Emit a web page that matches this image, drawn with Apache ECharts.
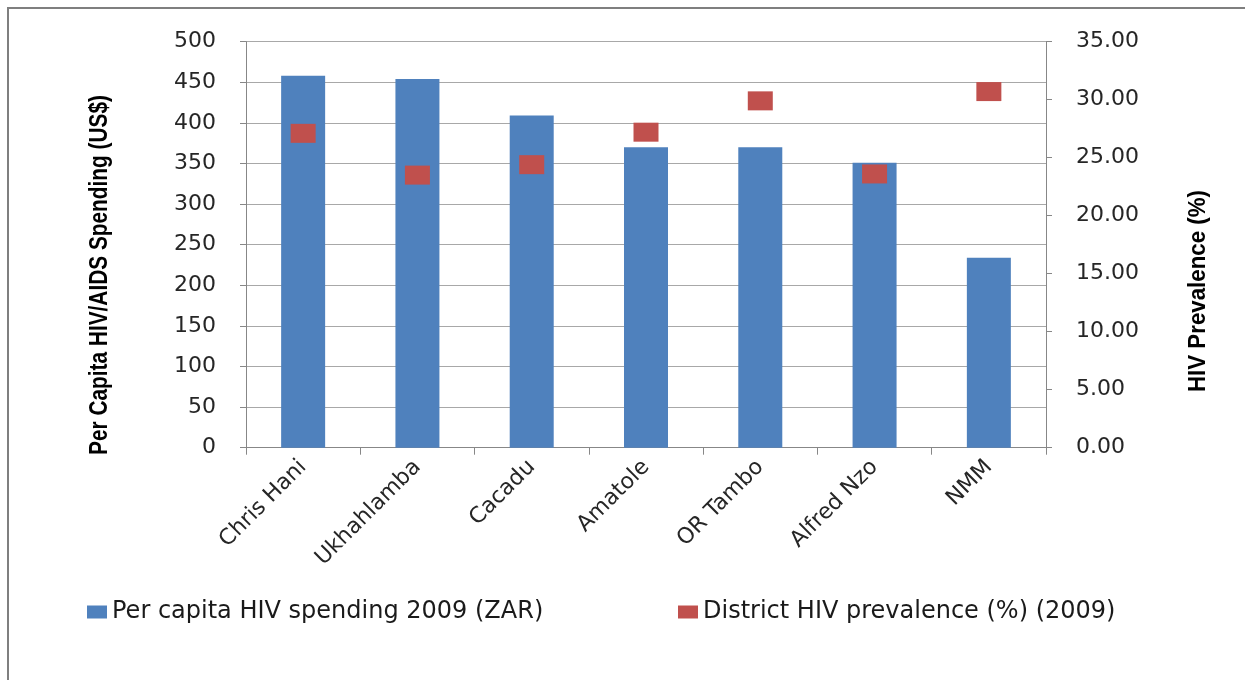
<!DOCTYPE html>
<html>
<head>
<meta charset="utf-8">
<script src="https://cdn.jsdelivr.net/npm/echarts@6/dist/echarts.min.js"></script>
<style>
html,body{margin:0;padding:0;background:#fff;}
#chart{width:1245px;height:680px;}
</style>
</head>
<body>
<div id="chart"></div>
<script>
const categories = ['Chris Hani', 'Ukhahlamba', 'Cacadu', 'Amatole', 'OR Tambo', 'Alfred Nzo', 'NMM'];
const spending = [458, 454, 409, 370, 370, 351, 234];
const prevalence = [27.1, 23.5, 24.4, 27.2, 29.9, 23.6, 30.7];
const seriesNames = ['Per capita HIV spending 2009 (ZAR)', 'District HIV prevalence (%) (2009)'];
const leftTitle = 'Per Capita HIV/AIDS Spending (US$)';
const rightTitle = 'HIV Prevalence (%)';

function fitScale(text, font, target) {
  const ctx = document.createElement('canvas').getContext('2d');
  ctx.font = font;
  return target / ctx.measureText(text).width;
}
const titleFontL = 'bold 25px "Liberation Sans", Arial, sans-serif';
const titleFontR = 'bold 24px "Liberation Sans", Arial, sans-serif';

const chart = echarts.init(document.getElementById('chart'), null, {renderer: 'canvas'});
const labelFont = {fontFamily: 'DejaVu Sans', fontSize: 22, color: '#262626'};
const legendText = {fontFamily: 'DejaVu Sans', fontSize: 24, color: '#1a1a1a'};
chart.setOption({
  animation: false,
  backgroundColor: '#ffffff',
  grid: {left: 246, right: 199, top: 41.7, bottom: 232.3, containLabel: false},
  legend: [{
    left: 82, top: 595, itemWidth: 20, itemHeight: 13, itemGap: 0, icon: 'rect',
    textStyle: legendText, data: [seriesNames[0]]
  }, {
    left: 673, top: 595, itemWidth: 20, itemHeight: 13, itemGap: 0, icon: 'rect',
    textStyle: legendText, data: [seriesNames[1]]
  }],
  xAxis: {
    type: 'category',
    data: categories,
    axisLine: {lineStyle: {color: '#878787', width: 1}},
    axisTick: {show: true, length: 7, lineStyle: {color: '#878787'}},
    axisLabel: Object.assign({rotate: 45, margin: 16, interval: 0}, labelFont)
  },
  yAxis: [{
    type: 'value', min: 0, max: 500, interval: 50,
    axisLine: {show: true, lineStyle: {color: '#878787'}},
    axisTick: {show: true, length: 6, lineStyle: {color: '#878787'}},
    splitLine: {show: true, lineStyle: {color: '#a8a8a8', width: 1}},
    axisLabel: Object.assign({margin: 30}, labelFont)
  }, {
    type: 'value', min: 0, max: 35, interval: 5, position: 'right',
    axisLine: {show: true, lineStyle: {color: '#878787'}},
    axisTick: {show: true, length: 6, lineStyle: {color: '#878787'}},
    splitLine: {show: false},
    axisLabel: Object.assign({margin: 30, formatter: v => v.toFixed(2)}, labelFont)
  }],
  series: [{
    name: seriesNames[0], type: 'bar', data: spending, barWidth: 44,
    itemStyle: {color: '#4f81bd'}
  }, {
    name: seriesNames[1], type: 'scatter', yAxisIndex: 1, data: prevalence,
    symbol: 'rect', symbolSize: [25, 19],
    itemStyle: {color: '#c0504d', opacity: 1}
  }],
  graphic: [{
    type: 'rect', shape: {x: 8, y: 8, width: 1400, height: 800},
    style: {fill: 'none', stroke: '#7f7f7f', lineWidth: 2}, silent: true
  }, {
    type: 'text', x: 100, y: 275, rotation: Math.PI / 2,
    scaleX: fitScale(leftTitle, titleFontL, 360),
    style: {text: leftTitle, font: titleFontL, fill: '#000', textAlign: 'center', textVerticalAlign: 'middle'}
  }, {
    type: 'text', x: 1198, y: 291, rotation: Math.PI / 2,
    scaleX: fitScale(rightTitle, titleFontR, 202),
    style: {text: rightTitle, font: titleFontR, fill: '#000', textAlign: 'center', textVerticalAlign: 'middle'}
  }]
});
</script>
</body>
</html>
